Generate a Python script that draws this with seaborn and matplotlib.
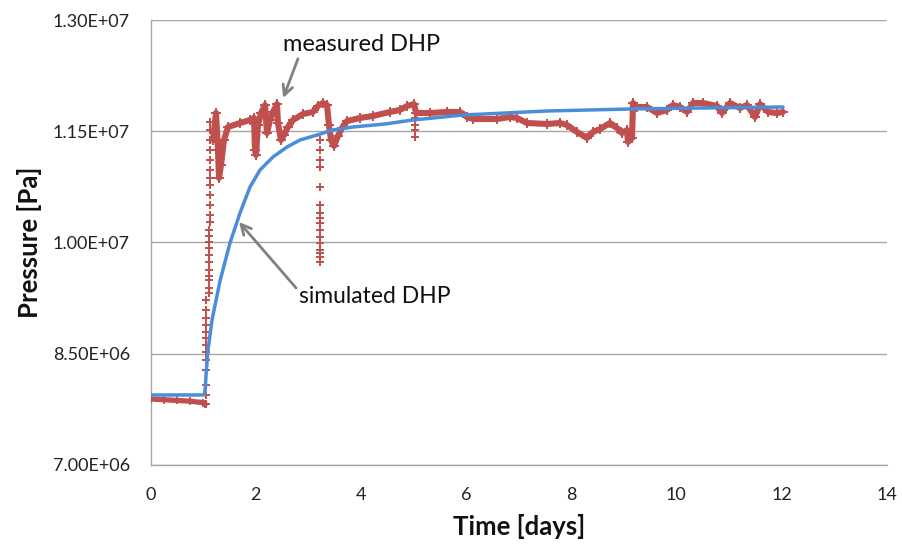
import matplotlib
matplotlib.use("Agg")
import matplotlib.pyplot as plt
from matplotlib.ticker import FuncFormatter, FixedLocator
import seaborn as sns
import pandas as pd

# ---------------- data (time in days, pressure in Pa) ----------------
pre_t = [0.0, 0.25, 0.5, 0.75, 1.0, 1.04]
pre_p = [7.89e6, 7.88e6, 7.87e6, 7.86e6, 7.84e6, 7.82e6]

meas_t = [1.185, 1.242, 1.280, 1.299, 1.337, 1.394, 1.470, 1.699, 1.889, 1.965,
          1.984, 2.003, 2.041, 2.098, 2.174, 2.212, 2.269, 2.326, 2.402, 2.421,
          2.478, 2.535, 2.611, 2.707, 2.897, 3.087, 3.182, 3.277, 3.353, 3.391,
          3.430, 3.487, 3.563, 3.639, 3.734, 3.981, 4.229, 4.552, 4.742, 4.876,
          5.009, 5.047, 5.313, 5.637, 5.884, 6.017, 6.131, 6.588, 6.835, 6.968,
          7.158, 7.539, 7.786, 7.919, 8.109, 8.300, 8.414, 8.547, 8.737, 8.870,
          8.965, 9.060, 9.079, 9.156, 9.175, 9.251, 9.442, 9.632, 9.822, 9.936,
          10.070, 10.203, 10.317, 10.507, 10.773, 10.868, 11.021, 11.211, 11.344, 11.496,
          11.591, 11.743, 11.914, 12.028]
meas_p = [11.382e6, 11.746e6, 11.247e6, 10.870e6, 11.045e6, 11.382e6, 11.557e6, 11.611e6, 11.652e6, 11.679e6,
          11.247e6, 11.180e6, 11.584e6, 11.746e6, 11.854e6, 11.476e6, 11.652e6, 11.760e6, 11.867e6, 11.611e6,
          11.382e6, 11.449e6, 11.557e6, 11.652e6, 11.733e6, 11.760e6, 11.840e6, 11.881e6, 11.854e6, 11.584e6,
          11.382e6, 11.301e6, 11.436e6, 11.544e6, 11.638e6, 11.679e6, 11.706e6, 11.760e6, 11.787e6, 11.840e6,
          11.867e6, 11.746e6, 11.746e6, 11.760e6, 11.760e6, 11.692e6, 11.665e6, 11.665e6, 11.692e6, 11.679e6,
          11.611e6, 11.598e6, 11.611e6, 11.584e6, 11.490e6, 11.409e6, 11.490e6, 11.530e6, 11.611e6, 11.544e6,
          11.476e6, 11.517e6, 11.355e6, 11.409e6, 11.881e6, 11.827e6, 11.827e6, 11.746e6, 11.787e6, 11.854e6,
          11.827e6, 11.760e6, 11.881e6, 11.881e6, 11.840e6, 11.746e6, 11.881e6, 11.813e6, 11.854e6, 11.692e6,
          11.867e6, 11.760e6, 11.746e6, 11.760e6]

# isolated measured points (pressure drops / jumps)
drop_t = [1.05] * 13 + [1.10] * 11 + [1.13] * 12 + [3.22] * 16 + [5.03] * 4
drop_p = [7.822e6, 7.944e6, 8.079e6, 8.281e6, 8.416e6, 8.524e6, 8.618e6, 8.712e6, 8.793e6,
          8.888e6, 8.982e6, 9.090e6, 9.225e6,
          9.319e6, 9.387e6, 9.494e6, 9.548e6, 9.629e6, 9.737e6, 9.831e6, 9.926e6, 10.007e6,
          10.088e6, 10.169e6,
          10.276e6, 10.371e6, 10.506e6, 10.640e6, 10.775e6, 10.870e6, 10.977e6, 11.112e6,
          11.247e6, 11.382e6, 11.517e6, 11.625e6,
          11.382e6, 11.247e6, 11.112e6, 11.018e6, 10.748e6, 10.506e6, 10.398e6, 10.330e6,
          10.263e6, 10.169e6, 10.074e6, 9.993e6, 9.899e6, 9.858e6, 9.804e6, 9.737e6,
          11.679e6, 11.584e6, 11.517e6, 11.422e6]

sim_t = [0.0, 1.02, 1.04, 1.052, 1.090, 1.166, 1.318, 1.508, 1.699, 1.889, 2.079,
         2.326, 2.593, 2.840, 3.163, 3.467, 3.848, 4.457, 4.990, 5.941, 7.539, 9.118,
         10.450, 12.028]
sim_p = [7.944e6, 7.944e6, 8.05e6, 8.213e6, 8.551e6, 8.955e6, 9.481e6, 9.993e6, 10.398e6,
         10.748e6, 10.978e6, 11.153e6, 11.288e6, 11.382e6, 11.449e6, 11.517e6, 11.557e6,
         11.598e6, 11.652e6, 11.719e6, 11.773e6, 11.800e6, 11.813e6, 11.827e6]

x_ticks = [0, 2, 4, 6, 8, 10, 12, 14]
y_ticks = [7.0e6, 8.5e6, 1.0e7, 1.15e7, 1.3e7]

RED = "#C0504D"
BLUE = "#4A8EDB"
GRAY = "#A6A6A6"

# ---------------- style ----------------
sns.set_style("white")
plt.rcParams["font.family"] = ["Lato", "DejaVu Sans"]

fig = plt.figure(figsize=(9.03, 5.48), dpi=100)
ax = fig.add_axes([0.1669, 0.1515, 0.8150, 0.8120])

pre_df = pd.DataFrame({"t": pre_t, "p": pre_p})
meas_df = pd.DataFrame({"t": meas_t, "p": meas_p})
drop_df = pd.DataFrame({"t": drop_t, "p": drop_p})
sim_df = pd.DataFrame({"t": sim_t, "p": sim_p})

sns.lineplot(data=pre_df, x="t", y="p", sort=False, color=RED, lw=3.8,
             marker="+", markersize=6, markeredgewidth=1.3, markeredgecolor=RED, ax=ax, zorder=3)
sns.lineplot(data=meas_df, x="t", y="p", sort=False, color=RED, lw=4.4,
             marker="+", markersize=7, markeredgewidth=1.4, markeredgecolor=RED, ax=ax, zorder=3)
sns.scatterplot(data=drop_df, x="t", y="p", marker="+", s=26, color=RED,
                linewidth=1.4, ax=ax, zorder=3)
sns.lineplot(data=sim_df, x="t", y="p", sort=False, color=BLUE, lw=2.5, ax=ax, zorder=4)

ax.set_xlim(0, 14)
ax.set_ylim(7.0e6, 1.3e7)
ax.xaxis.set_major_locator(FixedLocator(x_ticks))
ax.yaxis.set_major_locator(FixedLocator(y_ticks))
ax.yaxis.set_major_formatter(FuncFormatter(lambda v, pos: f"{v:.2E}"))
ax.xaxis.set_major_formatter(FuncFormatter(lambda v, pos: f"{v:g}"))

ax.grid(axis="y", color=GRAY, lw=1.0)
ax.set_axisbelow(True)
for side in ["top", "right"]:
    ax.spines[side].set_visible(False)
for side in ["left", "bottom"]:
    ax.spines[side].set_color(GRAY)
    ax.spines[side].set_linewidth(1.0)
ax.tick_params(axis="both", which="major", direction="out", length=5, width=1.0,
               color=GRAY, labelsize=13, labelcolor="#222222")
ax.tick_params(axis="y", pad=10)
ax.tick_params(axis="x", pad=11)

ax.set_xlabel("Time [days]", fontsize=18.5, fontweight="bold", color="#111111", labelpad=8)
ax.set_ylabel("Pressure [Pa]", fontsize=18.5, fontweight="bold", color="#111111", labelpad=8)

ax.annotate("measured DHP", xy=(2.52, 11.948e6), xytext=(4.02, 12.663e6),
            ha="center", va="center", fontsize=17, color="#111111",
            arrowprops=dict(arrowstyle="->", color="#808080", lw=2,
                            mutation_scale=18, shrinkA=0, shrinkB=0,
                            relpos=(0.1, 0.0)))
ax.annotate("simulated DHP", xy=(1.68, 10.276e6), xytext=(4.27, 9.265e6),
            ha="center", va="center", fontsize=16.5, color="#111111",
            arrowprops=dict(arrowstyle="->", color="#808080", lw=2,
                            mutation_scale=18, shrinkA=0, shrinkB=0,
                            relpos=(0.0, 0.75)))

fig.savefig("out.png", dpi=100)
